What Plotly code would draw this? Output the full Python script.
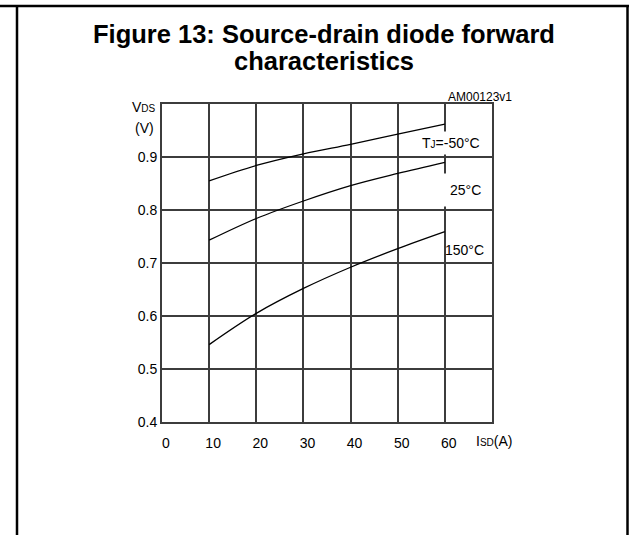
import plotly.graph_objects as go

# ---- data ----
isd = [10, 20, 30, 40, 50, 60]
vds_m50 = [0.855, 0.884, 0.906, 0.924, 0.943, 0.962]
vds_25 = [0.743, 0.784, 0.817, 0.846, 0.869, 0.890]
vds_150 = [0.546, 0.605, 0.652, 0.692, 0.727, 0.759]

x_ticks = [0, 10, 20, 30, 40, 50, 60]
x_tick_text = ["0", "10", "20", "30", "40", "50", "60"]
y_ticks = [0.4, 0.5, 0.6, 0.7, 0.8, 0.9]
y_tick_text = ["0.4", "0.5", "0.6", "0.7", "0.8", "0.9"]

FONT = "Liberation Sans, Arial, sans-serif"
GRID = "#3c3c3c"

W, H = 629, 535
L, R, T, B = 162, 137, 104, 113
PW, PH = W - L - R, H - T - B


def px(xp):
    return (xp - L) / PW


def py(yp):
    return (H - B - yp) / PH


fig = go.Figure()
for ys in (vds_m50, vds_25, vds_150):
    fig.add_trace(go.Scatter(x=isd, y=ys, mode="lines",
                             line=dict(color="black", width=1.3, shape="spline"),
                             showlegend=False, hoverinfo="skip"))

fig.update_layout(
    width=W, height=H,
    margin=dict(l=L, r=R, t=T, b=B, pad=0),
    paper_bgcolor="white", plot_bgcolor="white",
    font=dict(family=FONT, size=13, color="black"),
    xaxis=dict(range=[0, 70], tickvals=x_ticks, ticktext=x_tick_text,
               showgrid=True, gridcolor=GRID, gridwidth=1.6,
               showline=True, linecolor=GRID, linewidth=2, mirror=True,
               zeroline=False, ticks="", ticklabelshift=4, ticklabelstandoff=7,
               tickfont=dict(size=14), fixedrange=True),
    yaxis=dict(range=[0.4, 1.0], tickvals=y_ticks, ticktext=y_tick_text,
               showgrid=True, gridcolor=GRID, gridwidth=1.6,
               showline=True, linecolor=GRID, linewidth=2, mirror=True,
               zeroline=False, ticks="", ticklabelstandoff=0,
               tickfont=dict(size=14), fixedrange=True),
)

ann = []
# title (two lines)
tfont = dict(family="Liberation Sans, Arial, sans-serif", size=25.5, color="black")
ann.append(dict(text="<b>Figure 13: Source-drain diode forward</b>",
                xref="paper", yref="paper", x=px(324), y=py(34),
                xanchor="center", yanchor="middle", showarrow=False, font=tfont))
ann.append(dict(text="<b>characteristics</b>",
                xref="paper", yref="paper", x=px(324), y=py(61),
                xanchor="center", yanchor="middle", showarrow=False, font=tfont))
# figure code
ann.append(dict(text="AM00123v1", xref="paper", yref="paper", x=px(514), y=py(97),
                xanchor="right", yanchor="middle", showarrow=False,
                font=dict(size=12)))
# axis titles
ann.append(dict(text="V<span style='font-size:10px'>DS</span>", xref="paper", yref="paper",
                x=px(158), y=py(107), xanchor="right", yanchor="middle", showarrow=False,
                font=dict(size=14)))
ann.append(dict(text="(V)", xref="paper", yref="paper",
                x=px(156), y=py(128), xanchor="right", yanchor="middle", showarrow=False,
                font=dict(size=14)))
ann.append(dict(text="I<span style='font-size:10px'>SD</span>(A)", xref="paper", yref="paper",
                x=px(474), y=py(441), xanchor="left", yanchor="middle", showarrow=False,
                font=dict(size=14)))
# curve labels
ann.append(dict(text="T<span style='font-size:10px'>J</span>=-50°C", x=61.3, y=0.927,
                xanchor="center", yanchor="middle", showarrow=False,
                bgcolor="white", borderpad=3, font=dict(size=14)))
ann.append(dict(text="25°C", x=64.3, y=0.838, xanchor="center", yanchor="middle",
                showarrow=False, bgcolor="white", borderpad=8, font=dict(size=14)))
ann.append(dict(text="150°C", x=64.2, y=0.725, xanchor="center", yanchor="middle",
                showarrow=False, font=dict(size=14)))
fig.update_layout(annotations=ann)

# page frame (table cell borders)
frame = dict(type="line", xref="paper", yref="paper", line=dict(color="black", width=2.5))
fig.add_shape(**frame, x0=px(0), x1=px(629), y0=py(6), y1=py(6))
fig.add_shape(**frame, x0=px(17), x1=px(17), y0=py(6), y1=py(535))
fig.add_shape(**frame, x0=px(627.5), x1=px(627.5), y0=py(6), y1=py(535))

fig.write_html("out.html", config={"displayModeBar": False},
               post_script="document.body.style.margin='0';")
